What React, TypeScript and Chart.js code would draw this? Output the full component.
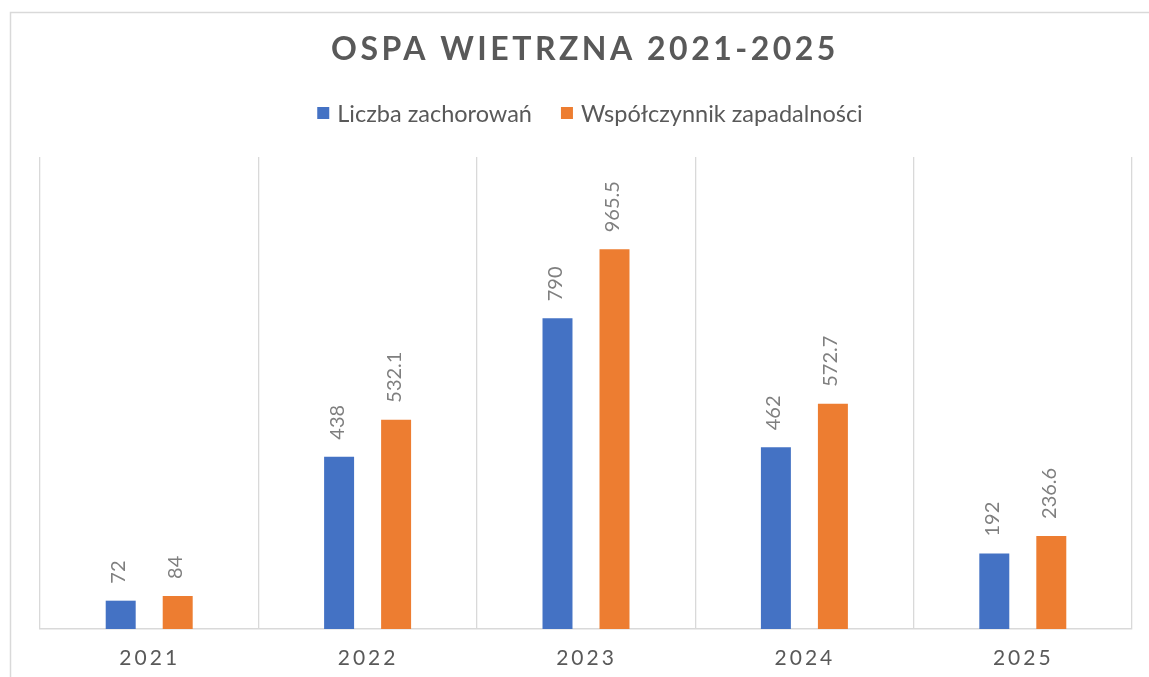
import React, { useEffect, useRef } from "react";
import { Chart, registerables } from "chart.js";

Chart.register(...registerables);

const TITLE = "OSPA WIETRZNA 2021-2025";
const categories = ["2021", "2022", "2023", "2024", "2025"];
const seriesNames = ["Liczba zachorowań", "Współczynnik zapadalności"];
const cases = [72, 438, 790, 462, 192];
const incidence = [84, 532.1, 965.5, 572.7, 236.6];
const seriesColors = ["#4472C4", "#ED7D31"];
const Y_MAX = 1200;

const FONT = "Lato, 'Open Sans', sans-serif";

const decorPlugin = {
  id: "decor",
  beforeDraw(chart: any) {
    const ctx = chart.ctx;
    ctx.save();
    ctx.fillStyle = "#ffffff";
    ctx.fillRect(0, 0, chart.width, chart.height);
    ctx.strokeStyle = "#d9d9d9";
    ctx.lineWidth = 1.5;
    ctx.strokeRect(10.5, 12.5, chart.width + 20, chart.height + 20);
    ctx.restore();
  },
  afterDraw(chart: any) {
    const ctx = chart.ctx;
    const xs = chart.scales.x;
    const area = chart.chartArea;
    ctx.save();
    // title
    ctx.fillStyle = "#595959";
    ctx.font = `bold 32px ${FONT}`;
    (ctx as any).letterSpacing = "3.5px";
    ctx.textAlign = "center";
    ctx.textBaseline = "alphabetic";
    ctx.fillText(TITLE, 585, 60);

    // legend
    (ctx as any).letterSpacing = "0px";
    ctx.font = `23.5px ${FONT}`;
    ctx.textAlign = "left";
    ctx.textBaseline = "middle";
    const legendY = 113;
    const gapBoxText = 8;
    const boxSize = 12;
    const itemGap = 29;
    const widths = seriesNames.map((n) => boxSize + gapBoxText + ctx.measureText(n).width);
    const total = widths[0] + widths[1] + itemGap;
    let lx = 590 - total / 2;
    seriesNames.forEach((n, i) => {
      ctx.fillStyle = seriesColors[i];
      ctx.fillRect(lx, legendY - boxSize / 2, boxSize, boxSize);
      ctx.fillStyle = "#595959";
      ctx.fillText(n, lx + boxSize + gapBoxText, legendY + 1);
      lx += widths[i] + itemGap;
    });

    // x tick labels
    ctx.font = `21px ${FONT}`;
    (ctx as any).letterSpacing = "3px";
    ctx.textAlign = "center";
    ctx.textBaseline = "alphabetic";
    ctx.fillStyle = "#595959";
    categories.forEach((c, i) => {
      ctx.fillText(c, xs.getPixelForValue(i) + 0.5, area.bottom + 36);
    });

    // data labels
    (ctx as any).letterSpacing = "0px";
    ctx.font = `20px ${FONT}`;
    ctx.fillStyle = "#7f7f7f";
    chart.data.datasets.forEach((ds: any, di: number) => {
      const meta = chart.getDatasetMeta(di);
      meta.data.forEach((bar: any, i: number) => {
        const v = ds.data[i];
        ctx.save();
        ctx.translate(bar.x - 2, bar.y - 17);
        ctx.rotate(-Math.PI / 2);
        ctx.textAlign = "left";
        ctx.textBaseline = "middle";
        ctx.fillText(String(v), 0, 0);
        ctx.restore();
      });
    });
    ctx.restore();
  },
};

export default function App() {
  const ref = useRef<HTMLCanvasElement | null>(null);
  useEffect(() => {
    if (!ref.current) return;
    const chart = new Chart(ref.current, {
      type: "bar",
      data: {
        labels: categories,
        datasets: [
          {
            label: seriesNames[0],
            data: cases,
            backgroundColor: seriesColors[0],
            categoryPercentage: 0.522,
            barPercentage: 0.526,
          },
          {
            label: seriesNames[1],
            data: incidence,
            backgroundColor: seriesColors[1],
            categoryPercentage: 0.522,
            barPercentage: 0.526,
          },
        ],
      },
      options: {
        responsive: false,
        devicePixelRatio: 1,
        animation: false,
        layout: { padding: { left: 40, right: 17, top: 157, bottom: 48 } },
        plugins: {
          legend: { display: false },
          title: { display: false },
          tooltip: { enabled: false },
        },
        scales: {
          x: {
            offset: true,
            grid: {
              display: true,
              offset: true,
              color: "#d9d9d9",
              lineWidth: 1.3,
              drawTicks: false,
            },
            border: { display: true, color: "#d9d9d9", width: 1.5 },
            ticks: { display: false },
          },
          y: {
            display: false,
            min: 0,
            max: Y_MAX,
          },
        },
      },
      plugins: [decorPlugin],
    });
    return () => chart.destroy();
  }, []);
  return (
    <div style={{ position: "fixed", left: 0, top: 0, width: 1149, height: 677, background: "#fff" }}>
      <canvas ref={ref} width={1149} height={677} style={{ display: "block" }} />
    </div>
  );
}
